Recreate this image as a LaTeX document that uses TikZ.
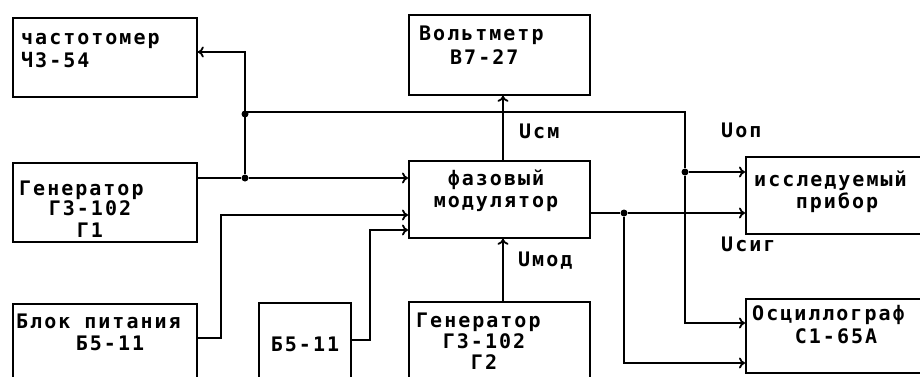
\documentclass[tikz,border=0pt]{standalone}
\usepackage{fontspec}
\setmonofont{DejaVu Sans Mono}[LetterSpace=10]
\usetikzlibrary{arrows.meta}
\begin{document}
\begin{tikzpicture}[x=1pt,y=-1pt,
  box/.style={draw,line width=1.8pt,inner sep=0pt},
  txt/.style={inner sep=0pt,font=\ttfamily\bfseries\fontsize{20}{21}\selectfont},
  wire/.style={line width=1.8pt},
  arr/.style={wire,-{To[length=6pt,width=11pt]}},
  dot/.style={circle,fill,inner sep=0pt,minimum size=7pt}]
\useasboundingbox (0,0) rectangle (920,376);
\begin{scope}
\clip (0,0) rectangle (920,376);
% boxes
\node[box,anchor=north west,minimum width=184pt,minimum height=79pt] (fm) at (12,17) {};
\node[box,anchor=north west,minimum width=184pt,minimum height=79pt] (g1) at (12,162) {};
\node[box,anchor=north west,minimum width=184pt,minimum height=90pt] (bp) at (12,303) {};
\node[box,anchor=north west,minimum width=92pt,minimum height=90pt] (b5) at (258,302) {};
\node[box,anchor=north west,minimum width=181pt,minimum height=90pt] (g2) at (408,301) {};
\node[box,anchor=north west,minimum width=181pt,minimum height=80pt] (vm) at (408,14) {};
\node[box,anchor=north west,minimum width=181pt,minimum height=77pt] (mod) at (408,160) {};
\node[box,anchor=north west,minimum width=190pt,minimum height=77pt] (dut) at (745,156) {};
\node[box,anchor=north west,minimum width=190pt,minimum height=74pt] (osc) at (745,298) {};
\end{scope}
% texts
\node[txt,anchor=base west] (t1) at (21,44) {частотомер};
\node[txt,anchor=base west] (t2) at (21,67) {Ч3-54};
\node[txt,anchor=base west] (t3) at (19,195) {Генератор};
\node[txt,anchor=base] (t4) at (90,215) {Г3-102};
\node[txt,anchor=base] (t5) at (90,237) {Г1};
\node[txt,anchor=base west] (t6) at (419,40) {Вольтметр};
\node[txt,anchor=base west] (t7) at (450,64) {В7-27};
\node[txt,anchor=base] (t8) at (496,185) {фазовый};
\node[txt,anchor=base] (t9) at (496,207) {модулятор};
\node[txt,anchor=base west] (t10) at (754,186) {исследуемый};
\node[txt,anchor=base] (t11) at (837,208) {прибор};
\node[txt,anchor=base west] (t12) at (16,328) {Блок питания};
\node[txt,anchor=base] (t13) at (110,350) {Б5-11};
\node[txt,anchor=base] (t14) at (305,351) {Б5-11};
\node[txt,anchor=base west] (t15) at (416,327) {Генератор};
\node[txt,anchor=base] (t16) at (484,348) {Г3-102};
\node[txt,anchor=base] (t17) at (484,369) {Г2};
\node[txt,anchor=base west] (t18) at (752,320) {Осциллограф};
\node[txt,anchor=base] (t19) at (836,343) {С1-65А};
% signal labels
\node[txt,anchor=base west] (lsm) at (519,138) {Uсм};
\node[txt,anchor=base west] (lmod) at (518,266) {Uмод};
\node[txt,anchor=base west] (lop) at (721,137) {Uоп};
\node[txt,anchor=base west] (lsig) at (721,251) {Uсиг};
% junctions
\node[dot] (j1) at (245,178) {};
\node[dot] (j2) at (245,114) {};
\node[dot] (j3) at (685,172) {};
\node[dot] (j4) at (624,213) {};
\coordinate (c1) at (245,52);
\coordinate (c2) at (685,112);
\coordinate (c3) at (685,323);
\coordinate (c4) at (221,338);
\coordinate (c5) at (221,215);
\coordinate (c6) at (370,340);
\coordinate (c7) at (370,230);
\coordinate (c8) at (624,363);
% wires
\draw[wire] (g1.east |- j1) -- (j1);
\draw[arr] (j1) -- (mod.west |- j1);
\draw[arr] (j1) -- (c1) -- (fm.east |- c1);
\draw[wire] (j2) -- (245,112) -- (c2) -- (j3);
\draw[arr] (j3) -- (dut.west |- j3);
\draw[arr] (j3) -- (c3) -- (osc.west |- c3);
\draw[arr] (bp.east |- c4) -- (c4) -- (c5) -- (mod.west |- c5);
\draw[arr] (b5.east |- c6) -- (c6) -- (c7) -- (mod.west |- c7);
\draw[arr] (mod.north -| 503,0) -- (vm.south -| 503,0);
\draw[arr] (g2.north -| 503,0) -- (mod.south -| 503,0);
\draw[wire] (mod.east |- j4) -- (j4);
\draw[arr] (j4) -- (dut.west |- j4);
\draw[arr] (j4) -- (c8) -- (osc.west |- c8);
\end{tikzpicture}
\end{document}
